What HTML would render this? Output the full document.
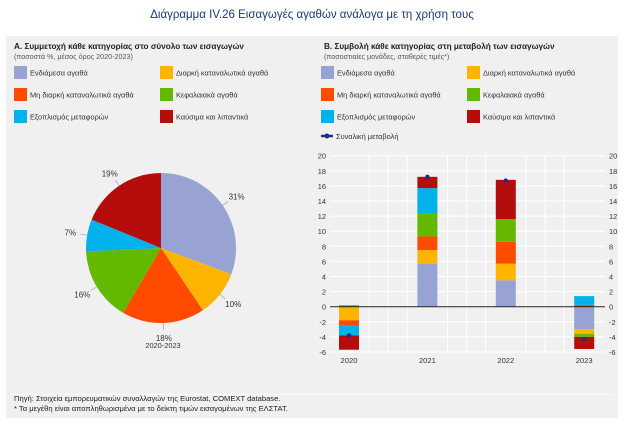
<!DOCTYPE html>
<html><head><meta charset="utf-8"><style>
body{margin:0;width:624px;height:421px;background:#fff;font-family:"Liberation Sans",sans-serif;overflow:hidden;position:relative}
.t{position:absolute;white-space:nowrap}
</style></head><body>
<div class="t" style="left:0;width:624px;text-align:center;top:9px;font-size:11.5px;color:#1c3a78">Διάγραμμα IV.26 Εισαγωγές αγαθών ανάλογα με τη χρήση τους</div>
<div style="position:absolute;left:6px;top:36px;width:612px;height:382px;background:#f0f0f0"></div>
<div style="position:absolute;left:10px;top:394px;width:604px;height:1px;background:#fafafa"></div>
<svg id="svg" width="624" height="421" style="position:absolute;left:0;top:0" font-family="Liberation Sans, sans-serif">
<text x="14" y="49" font-size="8.2" font-weight="bold" fill="#222">A. Συμμετοχή κάθε κατηγορίας στο σύνολο των εισαγωγών</text>
<text x="14" y="59" font-size="7.2" fill="#555">(ποσοστά %, μέσος όρος 2020-2023)</text>
<text x="324" y="49" font-size="8.2" font-weight="bold" fill="#222">B. Συμβολή κάθε κατηγορίας στη μεταβολή των εισαγωγών</text>
<text x="324" y="59" font-size="7.2" fill="#555">(ποσοστιαίες μονάδες, σταθερές τιμές*)</text>
<g id="legends"></g>
<g id="pie"></g>
<g id="bars"></g>
<text x="14" y="401" font-size="7.6" fill="#222">Πηγή: Στοιχεία εμπορευματικών συναλλαγών της Eurostat, COMEXT database.</text>
<text x="14" y="411" font-size="7.6" fill="#222">* Τα μεγέθη είναι αποπληθωρισμένα με το δείκτη τιμών εισαγομένων της ΕΛΣΤΑΤ.</text>
</svg>
<script>
const NS="http://www.w3.org/2000/svg";
const categories=["Ενδιάμεσα αγαθά","Διαρκή καταναλωτικά αγαθά","Μη διαρκή καταναλωτικά αγαθά","Κεφαλαιακά αγαθά","Εξοπλισμός μεταφορών","Καύσιμα και λιπαντικά"];
const colors=["#98a2d3","#ffb400","#ff4b00","#65b800","#00b1ea","#b50c0c"];
const pieShares=[31,10,18,16,7,19];
const years=["2020","2021","2022","2023"];
const intermediate=[0,5.7,3.5,-3.0];
const durable=[-1.8,1.8,2.2,-0.6];
const nondurable=[-0.7,1.8,2.9,0.25];
const capital=[0.2,3.0,3.0,-0.4];
const transport=[-1.3,3.4,0,1.15];
const fuels=[-1.9,1.5,5.2,-1.6];
const totalChange=[-3.8,17.2,16.7,-4.3];
const yTicks=[-6,-4,-2,0,2,4,6,8,10,12,14,16,18,20];
const svg=document.getElementById("svg");
function mk(tag,attrs,parent){const e=document.createElementNS(NS,tag);for(const k in attrs)e.setAttribute(k,attrs[k]);parent.appendChild(e);return e;}
// legends
const lg=document.getElementById("legends");
const legendOrder=[0,1,2,3,4,5];
[[14,31],[321,336]].forEach((p,pi)=>{
 legendOrder.forEach((ci,i)=>{
  const col=i%2,row=Math.floor(i/2);
  const sx=p[0]+col*(pi?146:146), y=66+row*22;
  const r=mk("rect",{x:sx,y:y,width:13,height:13,fill:colors[ci]},lg);
  
  
  const t=mk("text",{x:sx+16,y:y+9.5,"font-size":7.4,fill:"#333"},lg);t.textContent=categories[ci];
  
  
 });
});
mk("line",{x1:321,y1:136,x2:333,y2:136,stroke:"#1a2f8a","stroke-width":2.5},lg);
mk("circle",{cx:327,cy:136,r:2.5,fill:"#1a2f8a"},lg);
const lt=mk("text",{x:336,y:139,"font-size":7.4,fill:"#333"},lg);lt.textContent="Συναλική μεταβολή";


// pie
const pg=document.getElementById("pie");
const cx=161,cy=248,R=75;const sum=pieShares.reduce((a,b)=>a+b,0);
let a0=0;
pieShares.forEach((v,i)=>{
 const a1=a0+v/sum*2*Math.PI;
 const p=(a)=>[cx+R*Math.sin(a),cy-R*Math.cos(a)];
 const [x0,y0]=p(a0),[x1,y1]=p(a1);
 const s=mk("path",{d:`M${cx},${cy}L${x0},${y0}A${R},${R} 0 ${a1-a0>Math.PI?1:0} 1 ${x1},${y1}Z`,fill:colors[i]},pg);
 
 
 const am=(a0+a1)/2;
 const lx=cx+(R+17)*Math.sin(am),ly=cy-(R+15)*Math.cos(am);
 mk("line",{x1:cx+R*Math.sin(am),y1:cy-R*Math.cos(am),x2:cx+(R+7)*Math.sin(am),y2:cy-(R+7)*Math.cos(am),stroke:"#aab","stroke-width":0.8},pg);
 const t=mk("text",{x:lx,y:ly+3,"font-size":8,fill:"#333","text-anchor":"middle"},pg);t.textContent=v+"%";
 
 
 a0=a1;
});
const pt=mk("text",{x:163,y:348,"font-size":7.4,fill:"#333","text-anchor":"middle"},pg);pt.textContent="2020-2023";


// bars
const bg=document.getElementById("bars");
const L=330,Rr=605,y0px=306.7,unit=7.55;
const Y=v=>y0px-v*unit;
const X=i=>349+i*78.4;
mk("rect",{x:L,y:Y(20),width:Rr-L,height:Y(-6)-Y(20),fill:"#f0f0f0"},bg);
yTicks.forEach(v=>{
 mk("line",{x1:L,x2:Rr,y1:Y(v),y2:Y(v),stroke:"#fff","stroke-width":1},bg);
 [[L-4,"end"],[Rr+4,"start"]].forEach(([x,an])=>{
  const t=mk("text",{x:x,y:Y(v)+3,"font-size":7.4,fill:"#333","text-anchor":an},bg);t.textContent=v;
  
  
 });
});
for(let i=0;i<years.length-1;i++){const xm=(X(i)+X(i+1))/2;
 [-19,0,19].forEach(d=>mk("line",{x1:xm+d,x2:xm+d,y1:Y(20),y2:Y(-6),stroke:"#fff","stroke-width":1},bg));}
const series=[intermediate,durable,nondurable,capital,transport,fuels];
years.forEach((yr,i)=>{
 let pos=0,neg=0;
 series.forEach((s,si)=>{
  const v=s[i];if(!v)return;
  let top,bot;
  if(v>0){top=pos+v;bot=pos;pos=top;}else{top=neg;bot=neg+v;neg=bot;}
  const r=mk("rect",{x:X(i)-10,y:Y(top),width:20,height:Y(bot)-Y(top),fill:colors[si]},bg);
  
  
 });
 const t=mk("text",{x:X(i),y:363,"font-size":7.6,fill:"#333","text-anchor":"middle"},bg);t.textContent=yr;
 
 
});
mk("line",{x1:L,x2:Rr,y1:Y(0),y2:Y(0),stroke:"#222","stroke-width":1},bg);
totalChange.forEach((v,i)=>{
 const c=mk("circle",{cx:X(i),cy:Y(v),r:2.2,fill:"#1a2f8a"},bg);
 
 
});
</script>
</body></html>
